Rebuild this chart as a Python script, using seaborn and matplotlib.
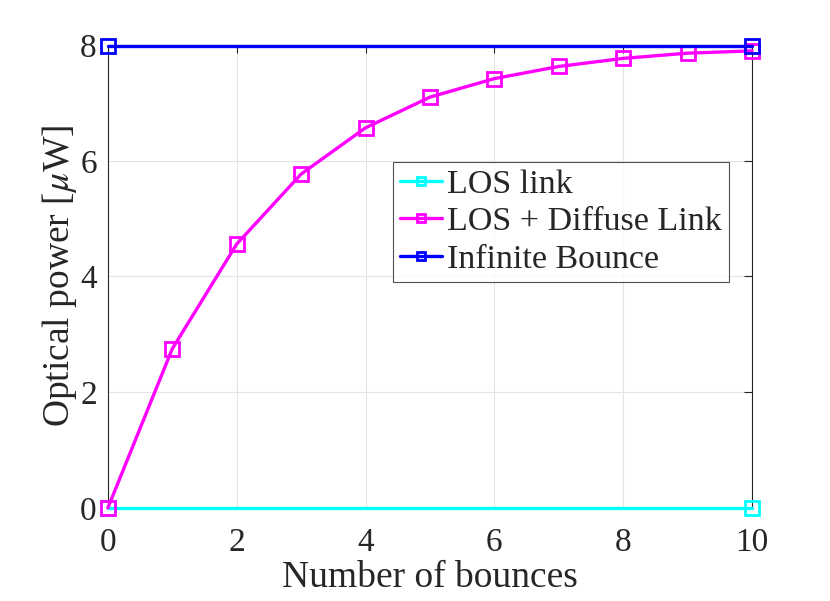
import matplotlib
matplotlib.use("Agg")
import matplotlib.pyplot as plt
import pandas as pd
import seaborn as sns

# values
bounces = [0, 1, 2, 3, 4, 5, 6, 7, 8, 9, 10]
diffuse_power = [0.0, 2.75, 4.56, 5.77, 6.57, 7.10, 7.42, 7.63, 7.77, 7.86, 7.90]
los_x = [0, 10]
los_power = [0.0, 0.0]
inf_x = [0, 10]
inf_power = [7.98, 7.98]

series = [
    (los_x, los_power, '#00ffff', 'LOS link'),
    (bounces, diffuse_power, '#ff00ff', 'LOS + Diffuse Link'),
    (inf_x, inf_power, '#0000ff', 'Infinite Bounce'),
]

sns.set_style("white")
plt.rcParams['font.family'] = ['Liberation Serif', 'DejaVu Serif']
plt.rcParams['mathtext.fontset'] = 'stix'

fig = plt.figure(figsize=(8.3, 6.01), dpi=100)
ax = fig.add_axes([0.130, 0.155, 0.776, 0.770])

for xs, ys, col, lab in series:
    sns.lineplot(x=xs, y=ys, color=col, label=lab, marker='s', markersize=10,
                 markerfacecolor='none', markeredgecolor=col, markeredgewidth=2,
                 linewidth=2.4, clip_on=False, zorder=3, ax=ax)

ax.set_xlim(0, 10)
ax.set_ylim(0, 8)
ax.set_xticks([0, 2, 4, 6, 8, 10])
ax.set_yticks([0, 2, 4, 6, 8])
ax.grid(True, color='#e3e3e3', linewidth=0.8)
ax.set_axisbelow(True)
for s in ax.spines.values():
    s.set_color('#262626')
    s.set_linewidth(0.8)
    s.set_visible(True)
ax.tick_params(direction='in', length=6, width=0.8, colors='#262626', labelsize=24,
               top=True, right=True)
ax.tick_params(axis='x', pad=14)
ax.tick_params(axis='y', pad=8)
ax.set_xlabel('Number of bounces', fontsize=27, color='#262626', labelpad=2)
ax.set_ylabel('Optical power [$\\mu$W]', fontsize=27, color='#262626', labelpad=1)

leg = ax.legend(loc='upper left', bbox_to_anchor=(393 / 830, 1 - 162 / 601),
                bbox_transform=fig.transFigure, fontsize=24.5, frameon=True,
                fancybox=False, edgecolor='#262626', handlelength=1.25,
                handletextpad=0.15, borderpad=0.2, labelspacing=0.2, borderaxespad=0)
leg.get_frame().set_linewidth(0.8)
for line in leg.get_lines():
    line.set_markersize(6)

fig.savefig('out.png', dpi=100)
